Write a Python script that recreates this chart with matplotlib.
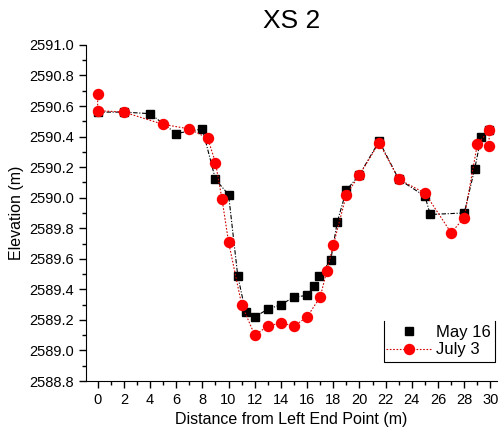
import matplotlib.pyplot as plt
from matplotlib.lines import Line2D
from matplotlib.ticker import MultipleLocator

plt.rcParams['font.family'] = ['Liberation Sans', 'DejaVu Sans']

# May 16 survey
may_x = [0, 2, 4, 6, 8, 9, 10, 10.7, 11.3, 12, 13, 14, 15, 16, 16.5, 16.9,
         17.8, 18.3, 19, 20, 21.5, 23, 25, 25.4, 28, 28.8, 29.3, 29.9]
may_z = [2590.56, 2590.56, 2590.55, 2590.42, 2590.45, 2590.12, 2590.02,
         2589.49, 2589.25, 2589.22, 2589.27, 2589.30, 2589.35, 2589.36,
         2589.42, 2589.49, 2589.59, 2589.84, 2590.05, 2590.15, 2590.37,
         2590.12, 2590.01, 2589.89, 2589.90, 2590.19, 2590.40, 2590.44]

# July 3 survey
jul_x = [0, 0, 2, 5, 7, 8.4, 9, 9.5, 10, 11, 12, 13, 14, 15, 16, 17, 17.5,
         18, 19, 20, 21.5, 23, 25, 27, 28, 29, 29.9, 29.9]
jul_z = [2590.68, 2590.57, 2590.56, 2590.48, 2590.45, 2590.39, 2590.23,
         2589.99, 2589.71, 2589.30, 2589.10, 2589.16, 2589.18, 2589.16,
         2589.22, 2589.35, 2589.52, 2589.69, 2590.02, 2590.15, 2590.36,
         2590.12, 2590.03, 2589.77, 2589.87, 2590.35, 2590.44, 2590.34]

fig = plt.figure(figsize=(5.02, 4.40), dpi=100)
ax = fig.add_axes([0.171, 0.134, 0.819, 0.764])

ax.plot(may_x, may_z, color='black', ls=(0, (4, 1.5, 1, 1.5)), lw=0.8,
        marker='s', ms=6.2, mfc='black', mec='black')
ax.plot(jul_x, jul_z, color='#d00000', ls=(0, (1.5, 1.5)), lw=0.8,
        marker='o', ms=7.2, mfc='red', mec='red')

ax.set_xlim(-0.9, 30.5)
ax.set_ylim(2588.8, 2591.0)
ax.xaxis.set_major_locator(MultipleLocator(2))
ax.xaxis.set_minor_locator(MultipleLocator(1))
ax.yaxis.set_major_locator(MultipleLocator(0.2))
ax.yaxis.set_minor_locator(MultipleLocator(0.1))
ax.yaxis.set_major_formatter(plt.FormatStrFormatter('%.1f'))
ax.tick_params(which='major', direction='out', length=5, width=1, labelsize=10.5)
ax.tick_params(which='minor', direction='out', length=3, width=1)
ax.spines['top'].set_visible(False)
ax.spines['right'].set_visible(False)

ax.set_title('XS 2', fontsize=19, pad=12)
ax.set_xlabel('Distance from Left End Point (m)', fontsize=11.5)
ax.set_ylabel('Elevation (m)', fontsize=11.5)

handles = [
    Line2D([], [], ls='none', marker='s', ms=6.2, color='black'),
    Line2D([], [], color='#d00000', ls=(0, (1.5, 1.5)), lw=0.8,
           marker='o', ms=7.2, mfc='red', mec='red'),
]
leg = ax.legend(handles, ['May 16', 'July 3'], loc='lower right',
                bbox_to_anchor=(0.995, 0.058), borderaxespad=0,
                fontsize=12, frameon=False, handlelength=2.7,
                borderpad=0.25, labelspacing=0.15, handletextpad=0.3)

# open-top box around the legend (left, bottom, right edges)
fig.canvas.draw()
bb = leg.get_window_extent().transformed(fig.transFigure.inverted())
bx = [bb.x0 + 0.004, bb.x0 + 0.004, bb.x1, bb.x1]
by = [bb.y1, bb.y0, bb.y0, bb.y1]
fig.add_artist(Line2D(bx, by, color='black', lw=0.8,
                      transform=fig.transFigure))

fig.savefig('out.png', dpi=100)
